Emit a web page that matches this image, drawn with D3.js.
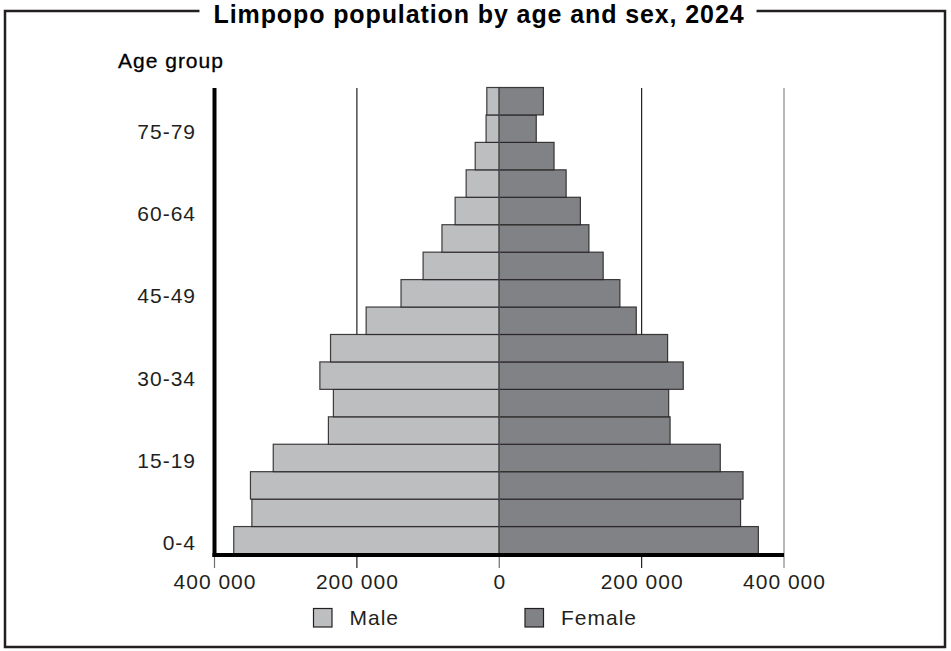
<!DOCTYPE html>
<html><head><meta charset="utf-8">
<script src="https://cdn.jsdelivr.net/npm/d3@7"></script>
<style>
body{margin:0;background:#fff;}
svg{display:block;font-family:"Liberation Sans",Arial,Helvetica,sans-serif;}
</style></head>
<body>
<svg id="chart" width="951" height="651"></svg>
<script>
const title = "Limpopo population by age and sex, 2024";
const ageGroups = ["0-4","5-9","10-14","15-19","20-24","25-29","30-34","35-39","40-44","45-49","50-54","55-59","60-64","65-69","70-74","75-79","80+"];
const male   = [373000,347500,349500,317500,240000,233000,252000,237000,187000,138000,107000,80500,62000,46500,33800,18500,17500];
const female = [364000,339000,342500,310500,240000,238000,258500,236500,192500,169500,146000,126000,114000,94000,77000,52000,62000];
const ageTickLabels = ["0-4","15-19","30-34","45-49","60-64","75-79"];
const xTicks = [-400000,-200000,0,200000,400000];
const seriesNames = ["Male","Female"];

const svg = d3.select("#chart");
const ink = "#231f20";
const colMale = "#bcbec0", colFemale = "#808285";

const x = d3.scaleLinear().domain([-400000,400000]).range([214.5,784]);
const y = d3.scaleBand().domain(ageGroups.slice().reverse()).range([87.5,554]).padding(0);

// frame
svg.append("rect").attr("x",5).attr("y",11).attr("width",940).attr("height",636)
  .attr("fill","none").attr("stroke",ink).attr("stroke-width",2.5);
const titleBg = svg.append("rect").attr("fill","#fff");

// gridlines
const gridTicks = [-200000,200000,400000];
svg.append("g").selectAll("line").data(gridTicks).join("line")
  .attr("x1",d=>x(d)).attr("x2",d=>x(d)).attr("y1",88).attr("y2",568)
  .attr("stroke",d=>d===400000?"#8a8b8d":ink).attr("stroke-width",1.2);

// tick marks below axis
svg.append("g").selectAll("line").data([-400000,0]).join("line")
  .attr("x1",d=>x(d)).attr("x2",d=>x(d)).attr("y1",553).attr("y2",568)
  .attr("stroke","#6d6e71").attr("stroke-width",1.2);

const data = ageGroups.map((a,i)=>({age:a,m:male[i],f:female[i]}));
// bars
svg.append("g").selectAll("rect").data(data).join("rect")
  .attr("x",d=>x(-d.m)).attr("y",d=>y(d.age)).attr("width",d=>x(0)-x(-d.m)).attr("height",y.bandwidth())
  .attr("fill",colMale).attr("stroke",ink).attr("stroke-width",1.2).attr("stroke-opacity",0.85);
svg.append("g").selectAll("rect").data(data).join("rect")
  .attr("x",x(0)).attr("y",d=>y(d.age)).attr("width",d=>x(d.f)-x(0)).attr("height",y.bandwidth())
  .attr("fill",colFemale).attr("stroke",ink).attr("stroke-width",1.2).attr("stroke-opacity",0.85);

// center line
svg.append("line").attr("x1",x(0)).attr("x2",x(0)).attr("y1",y.range()[0]).attr("y2",556)
  .attr("stroke","#58595b").attr("stroke-width",1.2);

// axes (thick)
svg.append("line").attr("x1",x(-400000)).attr("x2",x(-400000)).attr("y1",88).attr("y2",557)
  .attr("stroke","#000").attr("stroke-width",4);
svg.append("line").attr("x1",x(-400000)-2).attr("x2",x(400000)).attr("y1",555).attr("y2",555)
  .attr("stroke","#000").attr("stroke-width",4);

const fs = 21, ls = 1;
// x tick labels
const fmt = v => d3.format(",")(Math.abs(v)).replace(/,/g," ");
svg.append("g").selectAll("text").data(xTicks).join("text")
  .attr("x",d=>x(d)+ls/2).attr("y",589).attr("text-anchor","middle")
  .attr("font-size",fs).attr("letter-spacing",ls).attr("fill",ink).text(fmt);

// y tick labels
svg.append("g").selectAll("text").data(ageTickLabels).join("text")
  .attr("x",196).attr("y",d=>y(d)+y.bandwidth()/2+10).attr("text-anchor","end")
  .attr("font-size",fs).attr("letter-spacing",ls).attr("fill",ink).text(d=>d);

svg.append("text").attr("x",118).attr("y",68).attr("font-size",fs).attr("letter-spacing",ls)
  .attr("fill","#000").attr("stroke","#000").attr("stroke-width",0.3).text("Age group");

// title
const tt = svg.append("text").attr("x",479).attr("y",23).attr("text-anchor","middle")
  .attr("font-size",25).attr("letter-spacing",0.9).attr("font-weight","bold").attr("fill","#000").text(title);
const bb = tt.node().getBBox();
titleBg.attr("x",bb.x-14).attr("y",0).attr("width",bb.width+26).attr("height",20);

// legend
const legX = [313.5,525];
const lg = svg.append("g").selectAll("g").data(seriesNames).join("g")
  .attr("transform",(d,i)=>`translate(${legX[i]},608.5)`);
lg.append("rect").attr("width",18.5).attr("height",18.5)
  .attr("fill",(d,i)=>i===0?colMale:colFemale).attr("stroke",ink).attr("stroke-width",1.2);
lg.append("text").attr("x",36).attr("y",16.5).attr("font-size",fs).attr("letter-spacing",ls).attr("fill",ink).text(d=>d);
</script>
</body></html>
